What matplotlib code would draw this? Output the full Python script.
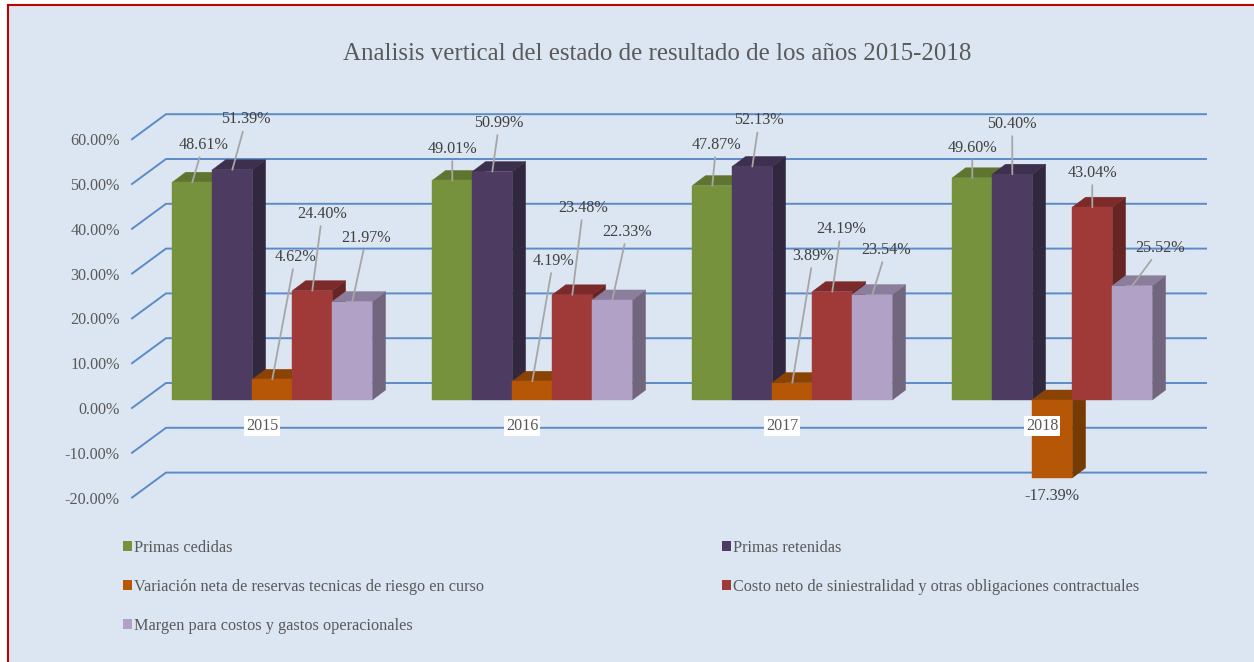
import matplotlib
matplotlib.use("Agg")
import matplotlib.pyplot as plt
from matplotlib.patches import Patch, Polygon, Rectangle

YEARS = ["2015", "2016", "2017", "2018"]
PRIMAS_CEDIDAS = [48.61, 49.01, 47.87, 49.60]
PRIMAS_RETENIDAS = [51.39, 50.99, 52.13, 50.40]
VARIACION_RESERVAS = [4.62, 4.19, 3.89, -17.39]
COSTO_SINIESTRALIDAD = [24.40, 23.48, 24.19, 43.04]
MARGEN = [21.97, 22.33, 23.54, 25.52]
Y_TICKS = [-20, -10, 0, 10, 20, 30, 40, 50, 60]
TITLE = "Analisis vertical del estado de resultado de los años 2015-2018"
SERIES_NAMES = [
    "Primas cedidas",
    "Primas retenidas",
    "Variación neta de reservas tecnicas de riesgo en curso",
    "Costo neto de siniestralidad y otras obligaciones contractuales",
    "Margen para costos y gastos operacionales",
]
SERIES = [PRIMAS_CEDIDAS, PRIMAS_RETENIDAS, VARIACION_RESERVAS, COSTO_SINIESTRALIDAD, MARGEN]

# styling: (front, top, side)
COLORS = [
    ("#76923C", "#5F752F", "#4C5E26"),
    ("#4D3B62", "#3D2F4E", "#31273F"),
    ("#B65708", "#8A4303", "#763A03"),
    ("#9F3A38", "#7C2B2A", "#662523"),
    ("#B2A1C7", "#8B7D9C", "#72667F"),
]
# label offsets from the bar top, in pixels (series by year)
LABEL_OFFSETS = [
    [(10.9, 37.2), (-0.1, 31.4), (3.9, 40.5), (-0.1, 29.8)],
    [(13.9, 50.3), (6.9, 48.6), (6.9, 46.0), (-0.1, 50.2)],
    [(22.9, 122.3), (20.9, 120.2), (20.9, 126.6), (-0.1, -18.0)],
    [(9.9, 76.7), (10.9, 86.8), (8.9, 62.6), (-0.1, 34.2)],
    [(13.9, 63.6), (14.9, 68.0), (13.9, 44.5), (27.9, 37.7)],
]

W, H = 1254, 662
BG = "#DCE6F2"
TXT = "#595959"
GRID = "#5B8BC6"
LABEL_SIZE = 11.6
plt.rcParams["font.family"] = ["Liberation Serif", "DejaVu Serif"]

fig = plt.figure(figsize=(W / 100, H / 100), dpi=100, facecolor="white")
fig.add_artist(Rectangle((7.5 / W, 1 - 1.02), 1.1, 1.02 - 5 / H, transform=fig.transFigure,
                         facecolor=BG, edgecolor="#C00000", linewidth=1.5, zorder=-5))

# axes = the front plane of the 3-D chart
left, right, top, bottom = 132, 1172, 139.2, 497.6
ax = fig.add_axes([left / W, 1 - bottom / H, (right - left) / W, (bottom - top) / H])
ax.set_xlim(-0.5, 3.5)
ax.set_ylim(-20, 60)
ax.patch.set_alpha(0)
for s in ax.spines.values():
    s.set_visible(False)

PX = 4.0 / (right - left)          # data x per pixel
PY = 80.0 / (bottom - top)         # data y per pixel

# gridlines on the back wall, with diagonal on the left side wall
wall_dx, wall_dy = 34 * PX, 25 * PY
for t in Y_TICKS:
    ax.plot([-0.5, -0.5 + wall_dx, 3.5 + wall_dx], [t, t + wall_dy, t + wall_dy],
            color=GRID, lw=1.4, clip_on=False, zorder=1, solid_joinstyle="miter")

# bars
bar_w = 40 * PX
off_x, off_y = 10.3 * PX, 8 * PY
depth_x, depth_y = 13.3 * PX, 10 * PY
z = 3.0
for i in range(len(YEARS)):
    for j, vals in enumerate(SERIES):
        v = vals[i]
        x0 = i - 2.5 * bar_w + off_x + j * bar_w
        x1 = x0 + bar_w
        y0 = off_y
        y1 = off_y + v
        front, topc, side = COLORS[j]
        ytop = max(y0, y1)
        ylow = min(y0, y1)
        ax.add_patch(Polygon([(x1, ylow), (x1 + depth_x, ylow + depth_y),
                              (x1 + depth_x, ytop + depth_y), (x1, ytop)],
                             closed=True, facecolor=side, edgecolor=side, lw=0.3,
                             clip_on=False, zorder=z))
        ax.add_patch(Polygon([(x0, ytop), (x0 + depth_x, ytop + depth_y),
                              (x1 + depth_x, ytop + depth_y), (x1, ytop)],
                             closed=True, facecolor=topc, edgecolor=topc, lw=0.3,
                             clip_on=False, zorder=z + 0.01))
        ax.bar(x0 + bar_w / 2, v, width=bar_w, bottom=y0, color=front, edgecolor=front,
               linewidth=0.3, clip_on=False, zorder=z + 0.02)
        z += 0.1

# data labels with leader lines
for i in range(len(YEARS)):
    for j, vals in enumerate(SERIES):
        v = vals[i]
        xc = i - 2.5 * bar_w + off_x + (j + 0.5) * bar_w
        dx, dy = LABEL_OFFSETS[j][i]
        props = None
        if v > 0:
            props = dict(arrowstyle="-", color="#A6A6A6", lw=1.3, shrinkA=1, shrinkB=0)
        ax.annotate(f"{v:.2f}%", xy=(xc, off_y + v), xycoords="data",
                    xytext=(dx, dy), textcoords="offset pixels", ha="center", va="center",
                    fontsize=LABEL_SIZE, color="#404040", arrowprops=props, zorder=20,
                    annotation_clip=False)

# axes ticks
ax.set_yticks(Y_TICKS)
ax.set_yticklabels([f"{t:.2f}%" for t in Y_TICKS], fontsize=LABEL_SIZE, color=TXT)
ax.tick_params(axis="y", length=0, pad=8.8)
ax.set_xticks(range(len(YEARS)))
ax.set_xticklabels(YEARS, fontsize=LABEL_SIZE, color=TXT)
ax.tick_params(axis="x", length=0, pad=-51.6)
ax.xaxis.set_zorder(15)
for lab in ax.get_xticklabels():
    lab.set_va("center")
    lab.set_bbox(dict(facecolor="white", edgecolor="none", pad=1.2))

# title
fig.text(657.5 / W, 1 - 53.5 / H, TITLE, ha="center", va="center", fontsize=17.9, color=TXT)

# legend
order = [0, 2, 4, 1, 3]
handles = [Patch(facecolor=COLORS[k][0], edgecolor="none") for k in order]
labels = [SERIES_NAMES[k] for k in order]
fig.legend(handles, labels, ncol=2, loc="upper left",
           bbox_to_anchor=(123 / W, 1 - 540 / H), frameon=False, fontsize=11.7,
           labelcolor=TXT, borderpad=0, borderaxespad=0, handlelength=0.55, handleheight=0.55,
           handletextpad=0.15, labelspacing=1.4, columnspacing=14.6)

fig.savefig("out.png", dpi=100, facecolor=fig.get_facecolor())
